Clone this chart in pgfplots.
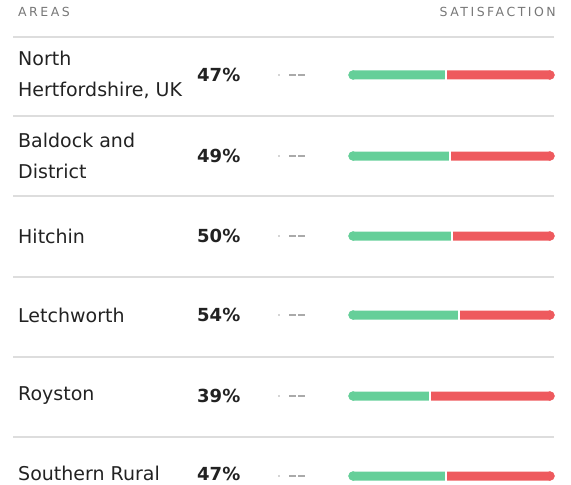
\documentclass[border=0pt]{standalone}
\usepackage{fontspec}
\setmainfont{DejaVu Sans}
\newfontfamily\hdrfont[LetterSpace=20]{DejaVu Sans}
\usepackage{pgfplots}
\pgfplotsset{compat=1.18}
\usepackage{pgfplotstable}

\definecolor{txtcol}{HTML}{222222}
\definecolor{hdrcol}{HTML}{777777}
\definecolor{sepcol}{HTML}{DDDDDD}
\definecolor{dashcol}{HTML}{AAAAAA}
\definecolor{goodcol}{HTML}{65CF99}
\definecolor{badcol}{HTML}{EE5A5E}

% y = row centre in pixels from the top, sat = satisfied share, rest = 100 - sat
\pgfplotstableread{
y   sat rest
75  47  53
156 49  51
236 50  50
315 54  46
396 39  61
476 47  53
}\rows

\pgfplotsset{
  canvas/.style={
    scale only axis, hide axis, clip=false,
    ymin=0, ymax=485, y dir=reverse,
    height=485bp,
  },
}
\tikzset{
  arealbl/.style={anchor=west, align=left, text=txtcol, inner xsep=0pt,
    font=\fontsize{19bp}{31bp}\selectfont},
  pctlbl/.style={anchor=west, text=txtcol, inner xsep=0pt,
    font=\bfseries\fontsize{18bp}{20bp}\selectfont},
  hdrlbl/.style={text=hdrcol, inner xsep=0pt,
    font=\hdrfont\fontsize{12.5bp}{13bp}\selectfont},
}

\begin{document}
\begin{tikzpicture}
% layout layer: texts and separators in pixel units
\begin{axis}[canvas, width=571bp, xmin=0, xmax=571]
  \node[hdrlbl, anchor=west] at (axis cs:18,12) {AREAS};
  \node[hdrlbl, anchor=east] at (axis cs:556,12) {SATISFACTION};
  \pgfplotsinvokeforeach{37,116,196,277,357,437}{
    \draw[sepcol, line width=2bp] (axis cs:13,#1) -- (axis cs:554,#1);
  }
  \node[arealbl] at (axis cs:18,75) {North\\Hertfordshire, UK};
  \node[arealbl] at (axis cs:18,156) {Baldock and\\District};
  \node[arealbl] at (axis cs:18,236) {Hitchin};
  \node[arealbl] at (axis cs:18,315) {Letchworth};
  \node[arealbl] at (axis cs:18,396) {Royston};
  \node[arealbl] at (axis cs:18,473) {Southern Rural};
  \node[pctlbl] at (axis cs:197,75) {47\%};
  \node[pctlbl] at (axis cs:197,156) {49\%};
  \node[pctlbl] at (axis cs:197,236) {50\%};
  \node[pctlbl] at (axis cs:197,315) {54\%};
  \node[pctlbl] at (axis cs:197,396) {39\%};
  \node[pctlbl] at (axis cs:197,474) {47\%};
  \pgfplotsinvokeforeach{75,156,236,315,396,476}{
    \fill[dashcol] (axis cs:279,#1) circle[radius=0.9bp];
    \draw[dashcol, line width=1.2bp] (axis cs:289,#1) -- (axis cs:296,#1);
    \draw[dashcol, line width=1.2bp] (axis cs:298,#1) -- (axis cs:305,#1);
  }
\end{axis}
% bars: satisfied vs rest
\begin{axis}[canvas, at={(353bp,0bp)}, anchor=south west, width=197bp,
    xmin=0, xmax=100, xbar stacked, bar width=9bp]
  \addplot[fill=goodcol, draw=none] table[x=sat, y=y] {\rows};
  \addplot[fill=badcol, draw=none] table[x=rest, y=y] {\rows};
\end{axis}
% rounded ends and the white gap between the two parts
\begin{axis}[canvas, at={(353bp,0bp)}, anchor=south west, width=197bp,
    xmin=0, xmax=100]
  \addplot[only marks, mark=*, mark size=4.5bp, goodcol, mark options={draw=none, fill=goodcol}]
    table[x expr=0, y=y] {\rows};
  \addplot[only marks, mark=*, mark size=4.5bp, badcol, mark options={draw=none, fill=badcol}]
    table[x expr=100, y=y] {\rows};
  \addplot[only marks, mark=|, mark size=5bp, mark options={draw=white, line width=2bp}]
    table[x=sat, y=y] {\rows};
\end{axis}
\pgfresetboundingbox
\path (0,0) rectangle (571bp,485bp);
\end{tikzpicture}
\end{document}
